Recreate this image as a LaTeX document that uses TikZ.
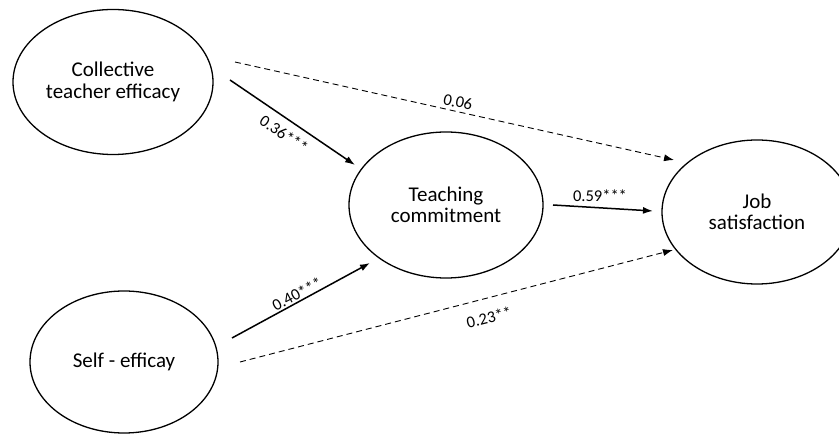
\documentclass[tikz,border=0pt]{standalone}
\usepackage{fontspec}
\setmainfont{Carlito}
\usetikzlibrary{shapes.geometric,arrows.meta}
\begin{document}
\begin{tikzpicture}[x=1pt,y=-1pt,
  var/.style={draw, line width=1.3pt, ellipse, inner sep=0pt, align=center,
    font=\fontsize{21}{21.5}\selectfont},
  arr/.style={line width=1.5pt, -{Latex[length=10pt,width=7pt]}},
  darr/.style={line width=0.9pt, dash pattern=on 6pt off 4pt, -{Latex[length=10pt,width=7pt]}},
  lab/.style={font=\fontsize{16.5}{18}\selectfont, inner sep=0pt}]
\useasboundingbox (0,0) rectangle (839,435);
\node[var, minimum width=200pt, minimum height=145pt] (cte) at (113,82) {Collective\\teacher efficacy};
\node[var, minimum width=194pt, minimum height=146pt] (tc) at (446,205) {Teaching\\commitment};
\node[var, minimum width=190pt, minimum height=144pt] (js) at (757,212) {Job\\satisfaction};
\node[var, minimum width=188pt, minimum height=142pt] (se) at (124,362) {Self - efficay};

\draw[arr] ([shift={(117,-2)}]cte.center) -- ([shift={(-91,-40)}]tc.center);
\draw[darr] ([shift={(122,-20)}]cte.center) -- ([shift={(-83,-52)}]js.center);
\draw[arr] ([shift={(107,0)}]tc.center) -- ([shift={(-104,-1)}]js.center);
\draw[arr] ([shift={(108,-24)}]se.center) -- ([shift={(-76,58)}]tc.center);
\draw[darr] ([shift={(116,0)}]se.center) -- ([shift={(-84,38)}]js.center);

\node[lab, rotate=-34] (l1) at (284,134) {0.36***};
\node[lab, rotate=-12] (l2) at (458,102) {0.06};
\node[lab] (l3) at (600,196) {0.59***};
\node[lab, rotate=28] (l4) at (297,294) {0.40***};
\node[lab, rotate=14] (l5) at (489,317) {0.23**};
\end{tikzpicture}
\end{document}
